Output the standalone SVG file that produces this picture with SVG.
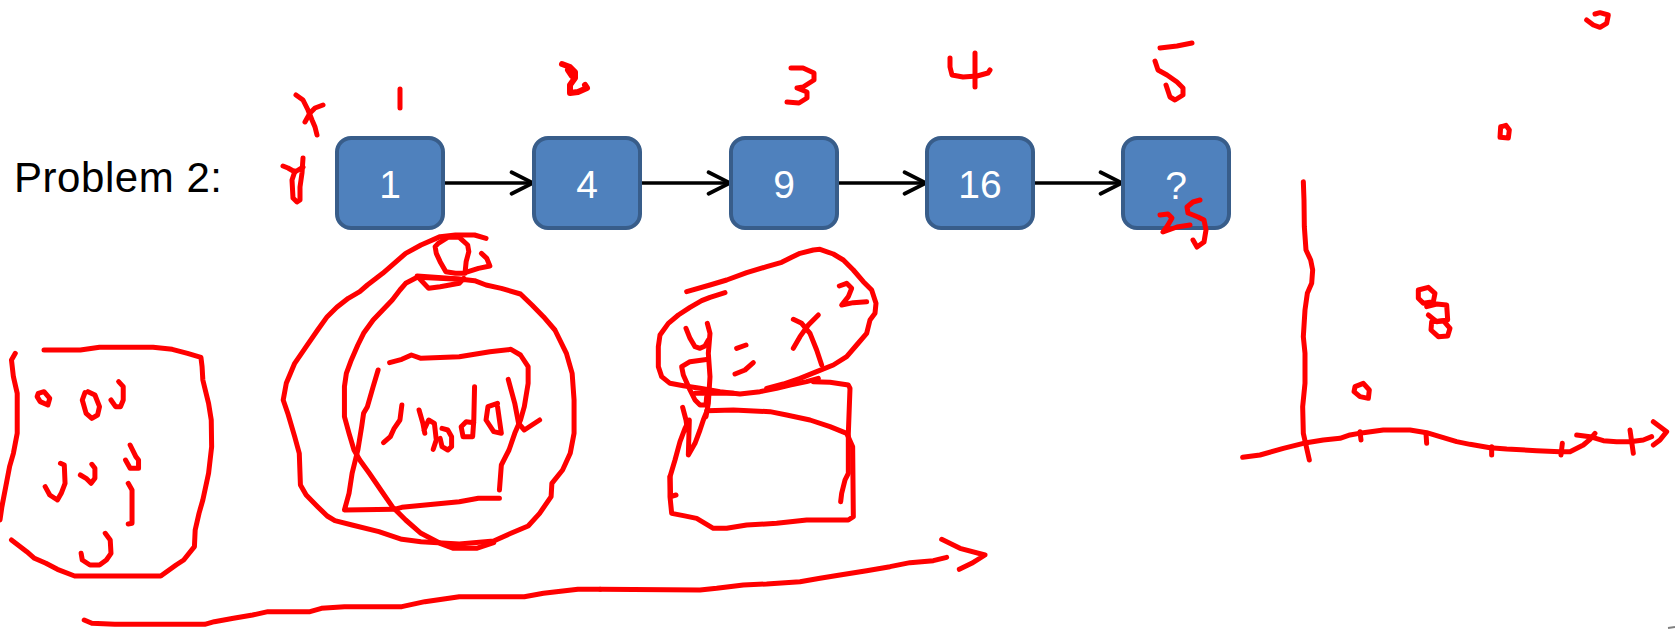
<svg xmlns="http://www.w3.org/2000/svg" width="1675" height="629" viewBox="0 0 1675 629">
<style>
.node rect{fill:#4F81BD;stroke:#385D8A;stroke-width:4}
.node text{fill:#FFFFFF;font-family:"Liberation Sans",Arial,sans-serif;font-size:39px;text-anchor:middle}
.title{fill:#000000;font-family:"Liberation Sans",Arial,sans-serif;font-size:42px}
.conn line{stroke:#000000;stroke-width:3.5;marker-end:url(#arr)}
.ink path{fill:none;stroke:#FF0000;stroke-width:5;stroke-linecap:round;stroke-linejoin:round;vector-effect:non-scaling-stroke}
</style>
<defs>
<marker id="arr" markerUnits="userSpaceOnUse" markerWidth="30" markerHeight="30" viewBox="-24 -14 28 28" refX="0" refY="0" orient="auto">
<path d="M-20,-10 L0,0 L-20,10" fill="none" stroke="#000000" stroke-width="3.5" stroke-linecap="round" stroke-linejoin="miter"/>
</marker>
</defs>
<rect width="1675" height="629" fill="#FFFFFF"/>
<text class="title" x="14" y="192" textLength="208">Problem 2:</text>
<g id="connectors" class="conn">
<line x1="443" y1="183" x2="533" y2="183"/>
<line x1="640" y1="183" x2="730" y2="183"/>
<line x1="837" y1="183" x2="926" y2="183"/>
<line x1="1033" y1="183" x2="1122" y2="183"/>
</g>
<g id="n1" class="node"><rect x="337" y="138" width="106" height="90" rx="14"/><text x="390" y="198">1</text></g>
<g id="n4" class="node"><rect x="534" y="138" width="106" height="90" rx="14"/><text x="587" y="198">4</text></g>
<g id="n9" class="node"><rect x="731" y="138" width="106" height="90" rx="14"/><text x="784" y="198">9</text></g>
<g id="n16" class="node"><rect x="927" y="138" width="106" height="90" rx="14"/><text x="980" y="198">16</text></g>
<g id="nq" class="node"><rect x="1123" y="138" width="106" height="90" rx="14"/><text x="1176" y="199">?</text></g>
<g id="ink-top" class="ink">
<path d="M296,95 L303,100 L308,110 L312,120 L315,127 L317,135"/>
<path d="M305,122 L310,113 L315,108 L323,105"/>
<path d="M283,166 L288,168 L295,172 L303,167"/>
<path d="M303,158 L302,173 L300,187 L300,200 L297,202 L293,198 L292,180 L295,171"/>
<path d="M400,89 L400,108"/>
<path d="M562,64 L570,67 L575,72 L575,78 L570,85 L570,93 L578,92 L587,88 L585,85 M568,70 L572,76" style="stroke-width:6"/>
<path d="M791,68 L803,68 L814,73 L814,80 L803,87 L797,88 L807,92 L807,98 L799,103 L787,102"/>
<path d="M950,58 L950,67 L952,75 L963,77 L977,76 L988,73 L990,70"/>
<path d="M975,53 L975,87"/>
<path d="M1160,48 L1177,46 L1192,43"/>
<path d="M1155,61 L1158,70 L1167,75 L1177,82 L1183,88 L1183,95 L1175,100 L1170,97 L1166,85"/>
<path d="M1160,215 L1168,214 L1172,218 L1168,225 L1163,232 L1177,227 L1190,225"/>
<path d="M1200,200 L1193,202 L1187,207 L1188,213 L1198,217 L1204,220 L1206,230 L1204,242 L1197,247 L1193,240"/>
</g>
<g id="ink-graph" class="ink" transform="translate(1150,0) scale(0.33333)">
<path d="M1310,60 L1330,75 L1350,82 L1370,70 L1375,45 L1350,38 L1335,42"/>
<path d="M1052,380 L1050,412 L1075,414 L1078,390 L1068,376 L1055,380"/>
<path d="M460,545 L462,600 L463,680 L468,750 L482,780 L488,810 L485,850 L472,880 L465,930 L460,1010 L465,1060 L465,1150 L458,1220 L460,1300 L478,1380"/>
<path d="M278,1372 L330,1365 L400,1345 L460,1330 L520,1320 L570,1315 L600,1305 L640,1298 L700,1290 L780,1290 L830,1298 L870,1310 L920,1325 L960,1333 L1020,1343 L1070,1347 L1160,1352 L1230,1355 L1260,1355 L1300,1335 L1320,1318 L1335,1300"/>
<path d="M1280,1305 L1320,1310 L1360,1322 L1400,1325 L1440,1325 L1480,1320 L1505,1310"/>
<path d="M1510,1265 L1530,1280 L1550,1295 L1530,1320 L1510,1335"/>
<path d="M630,1295 L633,1320 M828,1300 L830,1330 M1025,1340 L1025,1365 M1237,1330 L1233,1365 M1440,1290 L1450,1360"/>
<path d="M615,1160 L640,1150 L658,1170 L655,1195 L630,1190 L612,1175 Z"/>
<path d="M805,870 L835,862 L855,880 L850,905 L820,910 L805,895 Z"/>
<path d="M830,920 L860,912 L890,915 L893,960 L860,965 L835,945"/>
<path d="M845,965 L880,962 L900,985 L893,1008 L865,1010 L843,990 Z"/>
</g>
<g id="ink-left" class="ink" transform="translate(0,220) scale(0.38271,0.33333)">
<path d="M40,400 L30,420 L35,470 L45,520 L45,640 L35,700 L25,740 L15,800 L5,860 L0,900"/>
<path d="M115,390 L210,390 L260,382 L400,382 L450,388 L490,400 L525,412 L528,440 L530,480 L545,550 L552,600 L553,680 L545,760 L530,840 L520,880 L510,930 L508,980 L480,1020 L460,1035 L420,1068 L195,1068 L150,1048 L120,1030 L90,1015 L70,995 L30,960"/>
<path d="M100,520 L115,515 L130,535 L125,555 L105,545 L97,530 Z"/>
<path d="M222,518 L215,540 L225,580 L240,595 L255,585 L260,560 L248,525 L230,515"/>
<path d="M310,485 L322,500 L322,540 L315,560 L302,560 L290,540"/>
<path d="M158,730 L168,735 L170,790 L160,820 L150,840 L130,825 L118,800"/>
<path d="M210,765 L225,775 L238,790 L248,775 L248,745 L240,733"/>
<path d="M340,675 L355,710 L362,720 L362,745 L340,745 L328,720"/>
<path d="M335,790 L345,810 L345,910 L335,912"/>
<path d="M275,940 L288,960 L290,1000 L278,1020 L260,1035 L235,1035 L215,1020 L212,1000"/>
<path d="M1270,55 L1240,45 L1190,45 L1150,50 L1100,75 L1060,100 L1030,130 L1000,160 L960,195 L940,215 L910,235 L880,262 L855,290 L830,330 L800,380 L770,430 L748,490 L740,540 L752,580 L770,650 L782,700 L785,795 L800,825 L830,860 L855,888 L875,902 L920,915 L990,935 L1050,958 L1100,965 L1200,972 L1290,963 L1335,940 L1380,918 L1410,880 L1440,830 L1442,790 L1470,750 L1490,700 L1500,640 L1500,540 L1495,460 L1480,400 L1450,330 L1420,290 L1390,255 L1360,222 L1310,205 L1270,195 L1240,182 L1200,177 L1090,168 L1120,205 L1150,200 L1200,190 L1212,175"/>
<path d="M1200,178 L1090,172 L1060,190 L1045,210 L1025,240 L1000,270 L975,300 L950,340 L935,375 L918,420 L905,460 L900,500 L900,590 L912,640 L925,690 L940,720 L965,760 L995,810 L1025,860 L1060,900 L1100,940 L1150,970 L1185,985 L1245,985 L1290,968"/>
<path d="M1145,70 L1170,52 L1200,52 L1222,75 L1225,95 L1218,125 L1215,160 L1190,160 L1165,155 L1150,125 L1140,100 L1137,80 Z"/>
<path d="M1258,100 L1272,115 L1280,138 L1250,145 L1215,158"/>
<path d="M1018,428 L1050,418 L1075,405 L1100,415 L1200,410 L1280,395 L1335,388 L1360,405 L1380,440 L1380,490 L1370,560 L1360,600 L1345,640 L1330,690 L1310,735 L1305,810"/>
<path d="M1305,835 L1250,835 L1200,845 L1050,862 L1030,868 L900,870 L912,820 L920,760 L935,690 L945,620 L950,580 L960,560 L975,500 L988,450"/>
<path d="M1050,555 L1045,600 L1030,625 L1020,650 L1002,668"/>
<path d="M1095,570 L1105,610 L1110,640 M1108,630 L1120,600 L1135,610 L1140,660 L1132,688"/>
<path d="M1155,625 L1170,630 L1180,650 L1180,680 L1170,690 L1155,680 L1150,655"/>
<path d="M1240,500 L1238,600 L1235,650 L1210,650 L1205,620 L1218,605 L1238,608"/>
<path d="M1300,550 L1275,560 L1270,600 L1290,635 L1310,640 L1305,600 L1300,560"/>
<path d="M1328,478 L1345,550 L1355,610 L1370,630 L1410,600"/>
<path d="M220,1200 L240,1210 L300,1213 L535,1213 L560,1205 L610,1195 L660,1185 L700,1175 L810,1175 L840,1165 L900,1160 L1050,1160 L1110,1145 L1200,1130 L1370,1130 L1420,1120 L1510,1108 L1568,1108"/>
</g>
<g id="ink-mid" class="ink" transform="translate(600,220) scale(0.33333)">
<path d="M0,1108 L300,1110 L350,1105 L430,1095 L500,1092 L600,1085 L660,1075 L720,1065 L800,1052 L870,1040 L930,1028 L1000,1022 L1040,1012"/>
<path d="M1025,958 L1080,985 L1155,1005 L1115,1030 L1078,1048"/>
<path d="M260,215 L330,195 L380,180 L440,158 L500,140 L545,127 L575,112 L600,100 L640,90 L660,88 L700,102 L730,120 L760,150 L790,185 L815,210 L828,250 L825,280 L810,300 L800,340 L770,375 L740,410 L700,435 L650,455 L600,475 L550,492 L500,505"/>
<path d="M375,218 L330,232 L305,242 L270,262 L235,285 L205,310 L180,345 L175,380 L175,440 L185,470 L210,490 L250,497 L300,505 L360,515 L420,522 L480,515 L530,505 L570,495 L620,485 L655,475"/>
<path d="M258,325 L270,355 L285,380 L300,385 L315,378 L325,360"/>
<path d="M322,310 L330,340 L325,400 L330,470 L325,550 L318,590"/>
<path d="M325,418 L270,425 L245,440 L250,465 L270,510 L285,540 L300,555 L318,555 L320,530"/>
<path d="M285,520 L400,520"/>
<path d="M410,385 L438,375"/>
<path d="M405,462 L435,450 L460,428"/>
<path d="M580,298 L605,310 L630,340 L650,390 L665,435"/>
<path d="M580,385 L600,350 L625,315 L655,285"/>
<path d="M718,198 L740,190 L755,205 L745,230 L725,255 L760,248 L800,245"/>
<path d="M640,485 L690,487 L745,495 L750,505 L745,640 L745,760 L735,780 L725,820 L722,845"/>
<path d="M320,572 L400,570 L510,575 L560,585 L630,600 L690,620 L740,640 L758,680 L760,890 L745,900 L620,900 L530,910 L440,915 L380,925 L340,925 L315,910 L290,895 L250,887 L215,880 L210,830 L210,770 L225,720 L240,665 L255,625 L268,600 L265,705 L285,670 L300,630 L310,600 L320,575"/>
<path d="M248,562 L258,600 L262,630"/>
<path d="M210,770 L212,830 L228,825"/>
</g>
<path d="M1668,628 L1675,627" fill="none" stroke="#808080" stroke-width="2"/>
</svg>
